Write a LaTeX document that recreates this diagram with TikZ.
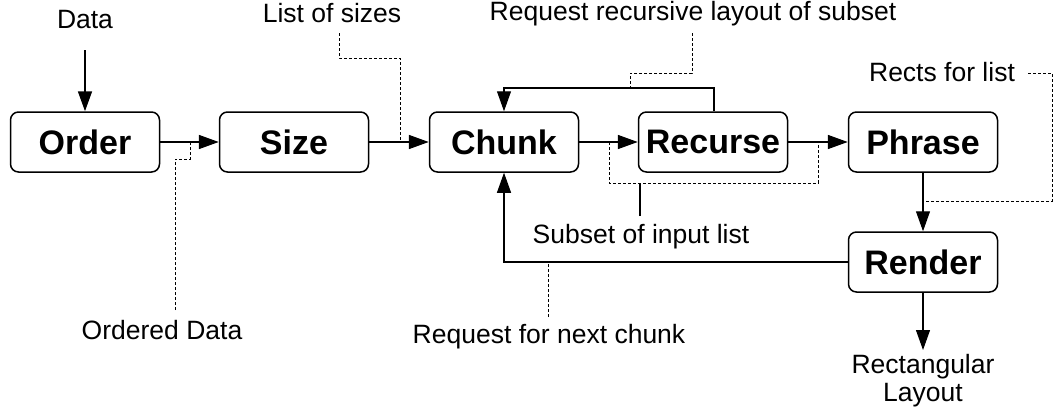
\documentclass[tikz,border=0pt]{standalone}
\usepackage{fontspec}
\setmainfont{Liberation Sans}
\usetikzlibrary{arrows.meta}
\begin{document}
\begin{tikzpicture}[x=1pt,y=-1pt,
  proc/.style={draw,line width=1.5pt,rounded corners=8pt,minimum width=149pt,minimum height=60pt,inner sep=0pt,font=\fontsize{34}{36}\selectfont\bfseries},
  lbl/.style={inner sep=0pt,font=\fontsize{26.5}{30}\selectfont},
  flow/.style={line width=1.7pt,-{Triangle[length=20pt,width=14pt]}},
  back/.style={line width=1.1pt,-{Triangle[length=20pt,width=14pt]}},
  note/.style={line width=1pt,dash pattern=on 3pt off 2pt},
  plain/.style={line width=1.1pt}]
\useasboundingbox (0,0) rectangle (1057,415);
\node[proc] (order) at (85,142) {Order};
\node[proc] (size) at (294,142) {Size};
\node[proc] (chunk) at (504,142) {Chunk};
\node[proc] (recurse) at (713,142) {Recurse};
\node[proc] (phrase) at (923,142) {Phrase};
\node[proc] (render) at (923,262) {Render};

\node[lbl] (data) at (85,20) {Data};
\node[lbl] (sizes) at (332,13) {List of sizes};
\node[lbl] (reqrec) at (693,14) {Request recursive layout of subset};
\node[lbl] (rects) at (942,72) {Rects for list};
\node[lbl] (subset) at (641,237) {Subset of input list};
\node[lbl] (ordered) at (162,330) {Ordered Data};
\node[lbl] (reqnext) at (549,337) {Request for next chunk};
\node[lbl,align=center,font=\fontsize{26.5}{28}\selectfont] (rectlay) at (923,381) {Rectangular\\Layout};

\coordinate (dataend) at (85,50);
\coordinate (top) at (714,88);
\coordinate (bot) at (504,262);
\coordinate (layend) at (923,350);

% main flow
\draw[flow] (dataend) -- (order.north);
\draw[flow] (order.east) -- (size.west);
\draw[flow] (size.east) -- (chunk.west);
\draw[flow] (chunk.east) -- (recurse.west);
\draw[flow] (recurse.east) -- (phrase.west);
\draw[back] (phrase.south) -- (render.north);
\draw[back] (render.south) -- (layend);
\draw[back] (recurse.north -| top) -- (top) -- (top -| chunk) -- (chunk.north);
\draw[back] (render.west) -- (bot) -- (chunk.south);

% annotations
\coordinate (od1) at (175,310);
\draw[note] (od1) -- (175,159) -- (190,159) -- (190,142);
\coordinate (ls1) at (339,33);
\draw[note] (ls1) -- (339,58) -- (400,58) -- (400,142);
\coordinate (rr1) at (692,33);
\draw[note] (rr1) -- (692,73) -- (630,73) -- (630,88);
\draw[note] (609,142) -- (609,183) -- (818,183) -- (818,142);
\coordinate (sb1) at (640,216);
\draw[plain] (sb1) -- (640,183);
\coordinate (rl1) at (1028,73);
\draw[note] (rl1) -- (1052,73) -- (1052,201) -- (923,201);
\coordinate (rn1) at (548,317);
\draw[note] (rn1) -- (548,262);
\end{tikzpicture}
\end{document}
